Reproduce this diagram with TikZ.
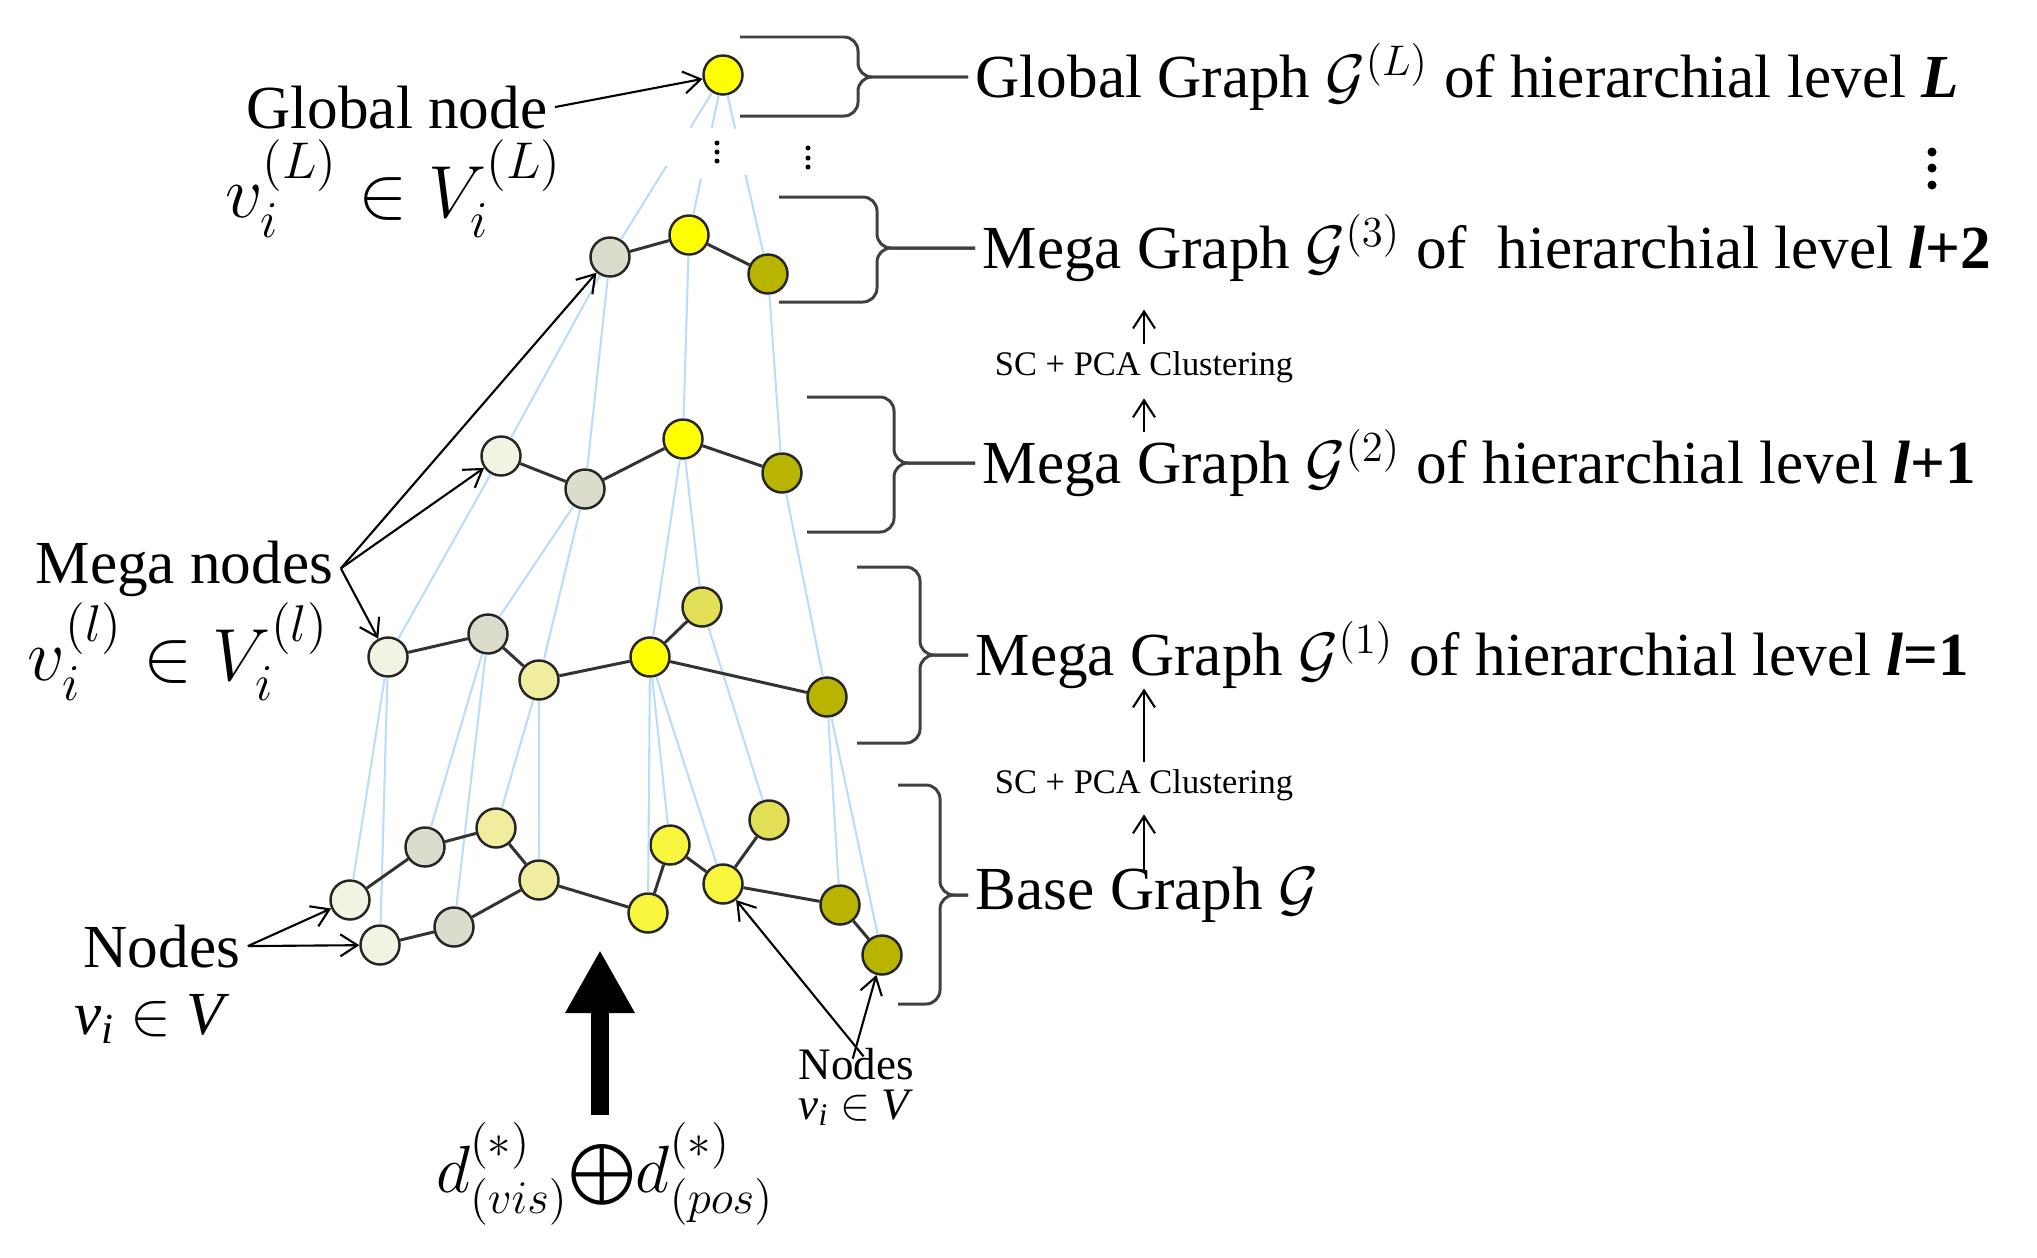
\RequirePackage{fix-cm}
\documentclass[tikz,border=0pt]{standalone}
\usepackage{exscale}
\usepackage{fontspec}
\setmainfont{Liberation Serif}
\usepackage{tikz}
\usetikzlibrary{arrows.meta, calc}

\definecolor{nlight}{HTML}{F3F3E3}
\definecolor{ngray}{HTML}{DCDCCC}
\definecolor{npale}{HTML}{F0EE9E}
\definecolor{nbase}{HTML}{F7F53C}
\definecolor{nmid}{HTML}{E2DE55}
\definecolor{ntop}{HTML}{FFFF00}
\definecolor{nolive}{HTML}{B8B400}
\definecolor{tieblue}{HTML}{BCDCFA}

\begin{document}
\begin{tikzpicture}[
    x=0.01cm, y=-0.01cm,
    >={Straight Barb[length=1.7mm,width=2.2mm]},
    vtx/.style={
        draw=black!85,
        circle,
        line width=0.7pt,
        minimum size=3.9mm,
        inner sep=0pt
    },
    edge/.style={draw=black!80, line width=0.85pt},
    tie/.style={draw=tieblue, line width=0.6pt},
    brc/.style={draw=black!75, line width=0.85pt, rounded corners=4pt},
    pointer/.style={->, line width=0.6pt},
    lbl/.style={inner sep=2pt, font=\fontsize{17.4pt}{20pt}\selectfont},
    mlbl/.style={inner sep=2pt, font=\fontsize{21pt}{25pt}\selectfont},
    slbl/.style={inner sep=0pt, font=\fontsize{12.8pt}{15pt}\selectfont},
    clbl/.style={inner sep=2pt, font=\fontsize{9.8pt}{12pt}\selectfont},
    fmlbl/.style={inner sep=2pt, font=\fontsize{19pt}{23pt}\selectfont}
]
  \useasboundingbox (0,0) rectangle (2037,1257);

  % global node
  \node[vtx,fill=ntop] (g) at (723,75) {};
  % level l+2
  \node[vtx,fill=ngray] (d1) at (610,257) {};
  \node[vtx,fill=ntop] (d2) at (689,235) {};
  \node[vtx,fill=nolive] (d3) at (768,274) {};
  % level l+1
  \node[vtx,fill=nlight] (c1) at (501,456) {};
  \node[vtx,fill=ngray] (c2) at (585,489) {};
  \node[vtx,fill=ntop] (c3) at (683,439) {};
  \node[vtx,fill=nolive] (c4) at (782,473) {};
  % level l=1
  \node[vtx,fill=nlight] (a1) at (388,657) {};
  \node[vtx,fill=ngray] (a2) at (488,634) {};
  \node[vtx,fill=npale] (a3) at (539,680) {};
  \node[vtx,fill=ntop] (a4) at (650,657) {};
  \node[vtx,fill=nmid] (a5) at (702,607) {};
  \node[vtx,fill=nolive] (a6) at (827,697) {};
  % base graph
  \node[vtx,fill=nlight] (b1) at (350,900) {};
  \node[vtx,fill=nlight] (b2) at (380,945) {};
  \node[vtx,fill=ngray] (b3) at (425,847) {};
  \node[vtx,fill=ngray] (b4) at (454,927) {};
  \node[vtx,fill=npale] (b5) at (496,828) {};
  \node[vtx,fill=npale] (b6) at (539,880) {};
  \node[vtx,fill=nbase] (b7) at (648,913) {};
  \node[vtx,fill=nbase] (b8) at (670,845) {};
  \node[vtx,fill=nbase] (b9) at (723,884) {};
  \node[vtx,fill=nmid] (b10) at (769,820) {};
  \node[vtx,fill=nolive] (b11) at (840,905) {};
  \node[vtx,fill=nolive] (b12) at (882,955) {};

  % cluster ties
  \draw[tie] (b1) -- (a1) (b2) -- (a1) (b3) -- (a2) (b4) -- (a2)
             (b5) -- (a3) (b6) -- (a3) (b7) -- (a4) (b8) -- (a4)
             (b9) -- (a4) (b10) -- (a5) (b11) -- (a6) (b12) -- (a6);
  \draw[tie] (a1) -- (c1) (a2) -- (c2) (a3) -- (c2) (a4) -- (c3)
             (a5) -- (c3) (a6) -- (c4);
  \draw[tie] (c1) -- (d1) (c2) -- (d1) (c3) -- (d2) (c4) -- (d3);
  \draw[tie] (d1) -- ($(g)!0.5!(d1)$) ($(g)!0.29!(d1)$) -- (g)
             (d2) -- ($(g)!0.65!(d2)$) ($(g)!0.33!(d2)$) -- (g)
             (d3) -- ($(g)!0.5!(d3)$) ($(g)!0.27!(d3)$) -- (g);

  % graph edges
  \draw[edge] (d1) -- (d2) -- (d3);
  \draw[edge] (c1) -- (c2) -- (c3) -- (c4);
  \draw[edge] (a1) -- (a2) -- (a3) -- (a4) -- (a6) (a4) -- (a5);
  \draw[edge] (b1) -- (b3) -- (b5) -- (b6) -- (b7) -- (b8) -- (b9) -- (b10)
              (b2) -- (b4) -- (b6) (b9) -- (b11) -- (b12);

  % dots
  \foreach \y in {143,152,161} \fill (717,\y) circle[radius=0.25mm];
  \foreach \y in {148,158,167} \fill (808,\y) circle[radius=0.25mm];
  \foreach \y in {152,168,185} \fill (1932,\y) circle[radius=0.45mm];

  % right labels
  \node[lbl,anchor=west] (gLlbl) at (968,77) {Global Graph $\mathcal{G}^{(L)}$ of hierarchial level \textbf{\textit{L}}};
  \node[lbl,anchor=west] (g3lbl) at (975,248) {Mega Graph $\mathcal{G}^{(3)}$ of~~hierarchial level \textbf{\textit{l}+2}};
  \node[lbl,anchor=west] (g2lbl) at (975,463) {Mega Graph $\mathcal{G}^{(2)}$ of hierarchial level \textbf{\textit{l}+1}};
  \node[lbl,anchor=west] (g1lbl) at (968,655) {Mega Graph $\mathcal{G}^{(1)}$ of hierarchial level \textbf{\textit{l}=1}};
  \node[lbl,anchor=west] (g0lbl) at (968,895) {Base Graph $\mathcal{G}$};
  \node[clbl] (sc3) at (1144,367) {SC + PCA Clustering};
  \node[clbl] (sc1) at (1144,785) {SC + PCA Clustering};

  % braces
  \draw[brc] (740,37) -| (858,77) -- (gLlbl.west);
  \draw[brc] (740,116) -| (858,77) -- (gLlbl.west);
  \draw[brc] (779,197) -| (877,248) -- (g3lbl.west);
  \draw[brc] (779,302) -| (877,248) -- (g3lbl.west);
  \draw[brc] (807,397) -| (894,463) -- (g2lbl.west);
  \draw[brc] (807,532) -| (894,463) -- (g2lbl.west);
  \draw[brc] (857,567) -| (920,655) -- (g1lbl.west);
  \draw[brc] (857,743) -| (920,655) -- (g1lbl.west);
  \draw[brc] (898,785) -| (940,895) -- (g0lbl.west);
  \draw[brc] (898,1004) -| (940,895) -- (g0lbl.west);

  % clustering steps
  \draw[pointer,shorten >=2mm] (sc3.north) -- (sc3.north |- g3lbl.south);
  \draw[pointer,shorten <=-1mm,shorten >=0.8mm] (g2lbl.north -| sc3) -- (sc3.south);
  \draw[pointer,shorten <=-1.2mm,shorten >=0.6mm] (g0lbl.north -| sc1) -- (sc1.south);
  \draw[pointer,shorten >=-0.8mm] (sc1.north) -- (sc1.north |- g1lbl.south);

  % left labels
  \node[lbl,anchor=base east] (gnode) at (555,128) {Global node};
  \node[mlbl,anchor=base east] (gnodem) at (570,217) {$v_i^{(L)}\in V_i^{(L)}$};
  \node[lbl,anchor=base west] (mnode) at (28,583) {Mega nodes};
  \node[mlbl,anchor=base west] (mnodem) at (20,680) {$v_i^{(l)}\in V_i^{(l)}$};
  \node[lbl,anchor=base west] (bnode) at (76,967) {Nodes};
  \node[lbl,anchor=base west] (bnodem) at (67,1034) {\textit{v}\textsubscript{\textit{i}} $\in$ \textit{V}};
  \node[slbl,anchor=base] (rnode) at (856,1079) {Nodes};
  \node[slbl,anchor=base] (rnodem) at (856,1119) {\textit{v}\textsubscript{\textit{i}} $\in$ \textit{V}};
  \node[fmlbl,anchor=base] (dsum) at (605,1192) {$d^{(*)}_{(vis)}{\bigoplus}d^{(*)}_{(pos)}$};

  \draw[pointer] (gnode.east) -- (g);
  \draw[pointer] (mnode.east) -- (d1);
  \draw[pointer] (mnode.east) -- (c1);
  \draw[pointer] (mnode.east) -- (a1);
  \draw[pointer] (bnode.east) -- (b1);
  \draw[pointer] (bnode.east) -- (b2);
  \draw[pointer,shorten <=-1.2mm] (rnode.north) -- (b9);
  \draw[pointer,shorten <=-1.2mm] (rnode.north) -- (b12);

  % feature input
  \coordinate (dtip) at (600,950);
  \draw[line width=1.8mm,-{Triangle[length=6.3mm,width=6.5mm]}] (dsum.north -| dtip) -- (dtip);
\end{tikzpicture}
\end{document}
